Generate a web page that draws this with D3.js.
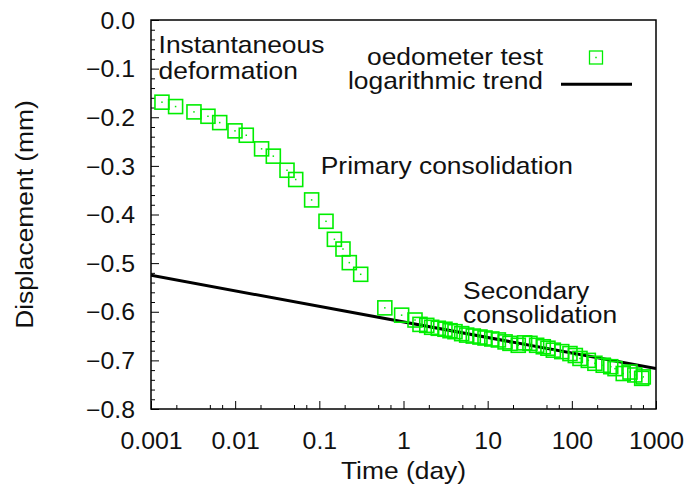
<!DOCTYPE html>
<html>
<head>
<meta charset="utf-8">
<script src="https://cdn.jsdelivr.net/npm/d3@7"></script>
<style>
  html, body { margin: 0; padding: 0; background: #fff; }
  svg { display: block; }
  text { font-family: "Liberation Sans", Arial, Helvetica, sans-serif; fill: #111; }
</style>
</head>
<body>
<svg id="chart" width="690" height="495"></svg>
<script>
// ---- data ----
const primaryTime = [0.00135, 0.00196, 0.00324, 0.00475, 0.00655, 0.00995, 0.01355, 0.0206, 0.0284,
  0.0413, 0.0524, 0.081, 0.12, 0.151, 0.191, 0.227, 0.31, 0.6];
const primaryDisp = [-0.169, -0.178, -0.189, -0.198, -0.211, -0.228, -0.237, -0.265, -0.280,
  -0.309, -0.328, -0.370, -0.414, -0.451, -0.471, -0.499, -0.523, -0.592];
const secondaryTime = [0.95, 1.37, 1.57, 1.89, 2.16, 2.59, 3.11, 3.57, 4.09, 4.91, 5.63, 6.75, 8.1, 9.3,
  11.2, 13.4, 16.1, 18.4, 23.1, 27.5, 31.8, 38.2, 45.8, 52, 60.3, 75.9, 95, 110, 125, 157, 188, 236, 290,
  326, 408, 491, 560, 676, 706];
const secondaryDisp = [-0.607, -0.617, -0.626, -0.628, -0.632, -0.634, -0.636, -0.639, -0.641, -0.645,
  -0.648, -0.650, -0.652, -0.654, -0.656, -0.658, -0.662, -0.665, -0.669, -0.664, -0.665, -0.669, -0.672,
  -0.675, -0.679, -0.682, -0.686, -0.690, -0.696, -0.700, -0.706, -0.710, -0.713, -0.717, -0.727, -0.724,
  -0.730, -0.737, -0.734];
const trendTime = [0.001, 1000];
const trendDisp = [-0.525, -0.717];
const xTickValues = [0.001, 0.01, 0.1, 1, 10, 100, 1000];
const xTickLabels = ["0.001", "0.01", "0.1", "1", "10", "100", "1000"];
const xMinorMultipliers = [2, 5, 7];
const yTickValues = [0, -0.1, -0.2, -0.3, -0.4, -0.5, -0.6, -0.7, -0.8];
const yTickLabels = ["0.0", "\u22120.1", "\u22120.2", "\u22120.3", "\u22120.4", "\u22120.5", "\u22120.6", "\u22120.7", "\u22120.8"];
const legendLabels = ["oedometer test", "logarithmic trend"];
const annotations = [
  { lines: ["Instantaneous", "deformation"], t: 0.00123, v: -0.067, gap: 26.5 },
  { lines: ["Primary consolidation"], t: 0.104, v: -0.3175, gap: 0 },
  { lines: ["Secondary", "consolidation"], t: 5.1, v: -0.573, gap: 24.5 }
];
const xTitle = "Time (day)";
const yTitle = "Displacement (mm)";

// ---- layout ----
const svg = d3.select("#chart");
const L = 151, R = 656, T = 20, B = 409;
const sxText = 1.1, sxTick = 1.08;
const GREEN = "#00ee00";

svg.append("rect").attr("width", 690).attr("height", 495).attr("fill", "#fff");

const x = d3.scaleLog().domain([0.001, 1000]).range([L, R]);
const y = d3.scaleLinear().domain([-0.8, 0]).range([B, T]);

// minor ticks
const yMinor = d3.range(0, 41).map(i => -i * 0.02).filter(v => !yTickValues.some(t => Math.abs(t - v) < 1e-9));
const xMinor = [];
xTickValues.slice(0, -1).forEach(d => xMinorMultipliers.forEach(m => xMinor.push(d * m)));

svg.append("g").attr("transform", `translate(${L},0)`)
  .call(d3.axisLeft(y).tickValues(yMinor).tickSize(-4).tickFormat(""))
  .call(g => g.select(".domain").remove())
  .selectAll("line").attr("stroke", "#000").attr("stroke-width", 1);
svg.append("g").attr("transform", `translate(0,${B})`)
  .call(d3.axisBottom(x).tickValues(xMinor).tickSize(-4).tickFormat(""))
  .call(g => g.select(".domain").remove())
  .selectAll("line").attr("stroke", "#000").attr("stroke-width", 1);

// major axes
const yAxis = svg.append("g").attr("transform", `translate(${L},0)`)
  .call(d3.axisLeft(y).tickValues(yTickValues).tickSize(-8).tickPadding(16)
    .tickFormat((d, i) => yTickLabels[i]))
  .call(g => g.select(".domain").remove());
yAxis.selectAll("line").attr("stroke", "#000").attr("stroke-width", 1);
yAxis.selectAll("text")
  .attr("font-size", 23).attr("font-family", "Liberation Sans, Arial, sans-serif").attr("fill", "#111")
  .attr("dy", null).attr("x", null)
  .attr("transform", "translate(-16,8.2) scale(" + sxTick + ",1)");

const xAxis = svg.append("g").attr("transform", `translate(0,${B})`)
  .call(d3.axisBottom(x).tickValues(xTickValues).tickSize(-8).tickPadding(16)
    .tickFormat((d, i) => xTickLabels[i]))
  .call(g => g.select(".domain").remove());
xAxis.selectAll("line").attr("stroke", "#000").attr("stroke-width", 1);
xAxis.selectAll("text")
  .attr("font-size", 23).attr("font-family", "Liberation Sans, Arial, sans-serif").attr("fill", "#111")
  .attr("dy", null).attr("y", null)
  .attr("transform", "translate(0,40) scale(" + sxTick + ",1)");

// frame
svg.append("rect").attr("x", L).attr("y", T).attr("width", R - L).attr("height", B - T)
  .attr("fill", "none").attr("stroke", "#000").attr("stroke-width", 1.5);

// clip
svg.append("clipPath").attr("id", "clip").append("rect")
  .attr("x", L).attr("y", T).attr("width", R - L).attr("height", B - T);
const plot = svg.append("g").attr("clip-path", "url(#clip)");

// trend line
const line = d3.line().x(d => x(d[0])).y(d => y(d[1]));
plot.append("path").datum(d3.zip(trendTime, trendDisp)).attr("d", line)
  .attr("fill", "none").attr("stroke", "#000").attr("stroke-width", 3);

// squares
const pts = d3.zip(primaryTime.concat(secondaryTime), primaryDisp.concat(secondaryDisp));
const S = 14;
const gp = svg.append("g");
gp.selectAll("rect.pt").data(pts).join("rect").attr("class", "pt")
  .attr("x", d => x(d[0]) - S / 2).attr("y", d => y(d[1]) - S / 2)
  .attr("width", S).attr("height", S)
  .attr("fill", "none").attr("stroke", GREEN).attr("stroke-width", 1.6);
gp.selectAll("rect.dot").data(pts).join("rect").attr("class", "dot")
  .attr("x", d => x(d[0]) - 0.75).attr("y", d => y(d[1]) - 0.75)
  .attr("width", 1.5).attr("height", 1.5).attr("fill", GREEN);

// text helper
function label(xp, yp, str, anchor, size, sx, rot) {
  svg.append("text")
    .attr("transform", `translate(${xp},${yp})` + (rot ? ` rotate(${rot})` : "") + ` scale(${sx},1)`)
    .attr("text-anchor", anchor).attr("font-size", size).text(str);
}

// annotations
annotations.forEach(a => {
  a.lines.forEach((s, i) => label(x(a.t), y(a.v) + i * a.gap, s, "start", 24, sxText));
});

// legend
label(543, 65, legendLabels[0], "end", 24, sxText);
label(543, 89, legendLabels[1], "end", 24, sxText);
svg.append("rect").attr("x", 596 - 6.5).attr("y", 57.5 - 6.5).attr("width", 13).attr("height", 13)
  .attr("fill", "none").attr("stroke", GREEN).attr("stroke-width", 1.3);
svg.append("rect").attr("x", 595.25).attr("y", 56.75).attr("width", 1.5).attr("height", 1.5).attr("fill", GREEN);
svg.append("line").attr("x1", 561).attr("x2", 632).attr("y1", 84.3).attr("y2", 84.3)
  .attr("stroke", "#000").attr("stroke-width", 3);

// axis titles
label((L + R) / 2, 479, xTitle, "middle", 24, sxText);
label(33, (T + B) / 2, yTitle, "middle", 24, sxText, -90);
</script>
</body>
</html>
